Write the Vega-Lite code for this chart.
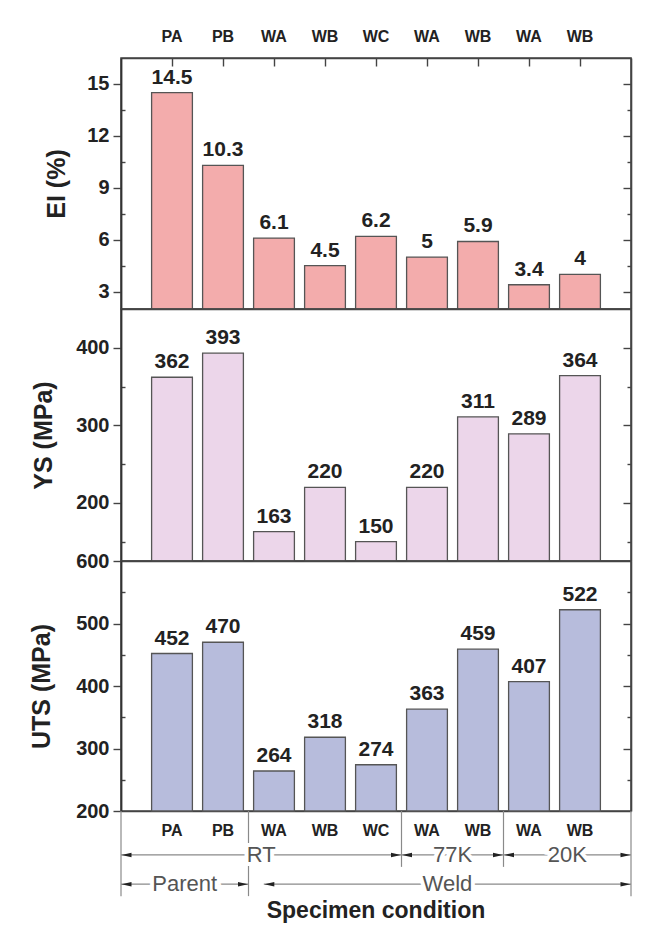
{
  "$schema": "https://vega.github.io/schema/vega-lite/v6.json",
  "background": "white",
  "padding": {"left": 28, "top": 27, "right": 0, "bottom": 0},
  "datasets": {
    "tensile": [
      {"sample": "PA RT", "cond": "PA", "temp": "RT", "el": 14.5, "ys": 362, "uts": 452},
      {"sample": "PB RT", "cond": "PB", "temp": "RT", "el": 10.3, "ys": 393, "uts": 470},
      {"sample": "WA RT", "cond": "WA", "temp": "RT", "el": 6.1, "ys": 163, "uts": 264},
      {"sample": "WB RT", "cond": "WB", "temp": "RT", "el": 4.5, "ys": 220, "uts": 318},
      {"sample": "WC RT", "cond": "WC", "temp": "RT", "el": 6.2, "ys": 150, "uts": 274},
      {"sample": "WA 77K", "cond": "WA", "temp": "77K", "el": 5, "ys": 220, "uts": 363},
      {"sample": "WB 77K", "cond": "WB", "temp": "77K", "el": 5.9, "ys": 311, "uts": 459},
      {"sample": "WA 20K", "cond": "WA", "temp": "20K", "el": 3.4, "ys": 289, "uts": 407},
      {"sample": "WB 20K", "cond": "WB", "temp": "20K", "el": 4, "ys": 364, "uts": 522}
    ],
    "spans": [
      {"label": "RT", "level": "Temperature", "from": 0, "to": 5.5},
      {"label": "77K", "level": "Temperature", "from": 5.5, "to": 7.5},
      {"label": "20K", "level": "Temperature", "from": 7.5, "to": 10},
      {"label": "Parent", "level": "Material", "from": 0, "to": 2.5},
      {"label": "Weld", "level": "Material", "from": 2.8, "to": 10}
    ],
    "dividers": [
      {"at": 0, "start": "Specimen", "reach": "Material"},
      {"at": 2.5, "start": "Specimen", "reach": "Material"},
      {"at": 5.5, "start": "Specimen", "reach": "Temperature"},
      {"at": 7.5, "start": "Specimen", "reach": "Temperature"},
      {"at": 10, "start": "Specimen", "reach": "Material"}
    ]
  },
  "spacing": 0,
  "bounds": "flush",
  "vconcat": [
    {
      "width": 510,
      "height": 251,
      "data": {"name": "tensile"},
      "layer": [
        {
          "mark": {"type": "bar", "width": {"band": 0.8}, "fill": "#f3acac", "stroke": "#555", "strokeWidth": 1.3},
          "encoding": {
            "x": {
              "field": "sample", "type": "nominal", "sort": null,
              "scale": {"paddingInner": 0, "paddingOuter": 0.5},
              "axis": {"orient": "top", "title": null, "labelExpr": "split(datum.label, ' ')[0]", "labelAngle": 0, "labelFontSize": 16, "labelFontWeight": "bold", "labelPadding": 22, "tickSize": -8, "labelOverlap": false}
            },
            "y": {
              "field": "el", "type": "quantitative",
              "scale": {"domain": [2, 16.5], "nice": false, "zero": false},
              "axis": {"orient": "left", "offset": 0, "title": "EI (%)", "titleFontSize": 25, "titleFontWeight": "bold", "titlePadding": 17, "values": [3, 4.5, 6, 7.5, 9, 10.5, 12, 13.5, 15], "labelExpr": "datum.value % 3 === 0 ? datum.label : ''", "labelFontSize": 20, "labelFontWeight": "bold", "labelPadding": 4, "tickSize": {"condition": {"test": "datum.value % 3 !== 0", "value": -4}, "value": 8}, "domain": true, "domainColor": "#333", "domainWidth": 1.8, "domainOpacity": 1}
            },
            "y2": {"datum": 2}
          }
        },
        {
          "mark": {"type": "text", "baseline": "alphabetic", "dy": -9, "fontSize": 21, "fontWeight": "bold", "color": "#222"},
          "encoding": {
            "x": {"field": "sample", "type": "nominal", "sort": null, "axis": {"orient": "bottom", "title": null, "labels": false, "tickSize": -8}},
            "y": {"field": "el", "type": "quantitative", "axis": {"orient": "right", "title": null, "labels": false, "values": [3, 4.5, 6, 7.5, 9, 10.5, 12, 13.5, 15], "tickSize": {"condition": {"test": "datum.value % 3 !== 0", "value": -4}, "value": -8}}},
            "text": {"field": "el", "type": "quantitative"}
          }
        }
      ],
      "resolve": {"axis": {"x": "independent", "y": "independent"}}
    },
    {
      "width": 510,
      "height": 252,
      "data": {"name": "tensile"},
      "layer": [
        {
          "mark": {"type": "bar", "width": {"band": 0.8}, "fill": "#ecd6ea", "stroke": "#555", "strokeWidth": 1.3},
          "encoding": {
            "x": {
              "field": "sample", "type": "nominal", "sort": null,
              "scale": {"paddingInner": 0, "paddingOuter": 0.5},
              "axis": {"orient": "bottom", "title": null, "labels": false, "tickSize": -8}
            },
            "y": {
              "field": "ys", "type": "quantitative",
              "scale": {"domain": [125, 450], "nice": false, "zero": false},
              "axis": {"orient": "left", "offset": 0, "title": "YS (MPa)", "titleFontSize": 25, "titleFontWeight": "bold", "titlePadding": 19, "values": [150, 200, 250, 300, 350, 400], "labelExpr": "datum.value % 100 === 0 ? datum.label : ''", "labelFontSize": 20, "labelFontWeight": "bold", "labelPadding": 4, "tickSize": {"condition": {"test": "datum.value % 100 !== 0", "value": -4}, "value": 8}, "domain": true, "domainColor": "#333", "domainWidth": 1.8, "domainOpacity": 1}
            },
            "y2": {"datum": 125}
          }
        },
        {
          "mark": {"type": "text", "baseline": "alphabetic", "dy": -9, "fontSize": 21, "fontWeight": "bold", "color": "#222"},
          "encoding": {
            "x": {"field": "sample", "type": "nominal", "sort": null, "axis": null},
            "y": {"field": "ys", "type": "quantitative", "axis": {"orient": "right", "title": null, "labels": false, "values": [150, 200, 250, 300, 350, 400], "tickSize": {"condition": {"test": "datum.value % 100 !== 0", "value": -4}, "value": -8}}},
            "text": {"field": "ys", "type": "quantitative"}
          }
        }
      ],
      "resolve": {"axis": {"x": "independent", "y": "independent"}}
    },
    {
      "width": 510,
      "height": 250,
      "data": {"name": "tensile"},
      "layer": [
        {
          "mark": {"type": "bar", "width": {"band": 0.8}, "fill": "#b7bcdc", "stroke": "#555", "strokeWidth": 1.3},
          "encoding": {
            "x": {
              "field": "sample", "type": "nominal", "sort": null,
              "scale": {"paddingInner": 0, "paddingOuter": 0.5},
              "axis": {"orient": "bottom", "title": null, "labels": false, "tickSize": -8}
            },
            "y": {
              "field": "uts", "type": "quantitative",
              "scale": {"domain": [200, 600], "nice": false, "zero": false},
              "axis": {"orient": "left", "offset": 0, "title": "UTS (MPa)", "titleFontSize": 25, "titleFontWeight": "bold", "titlePadding": 21, "values": [200, 250, 300, 350, 400, 450, 500, 550, 600], "labelExpr": "datum.value % 100 === 0 ? datum.label : ''", "labelFontSize": 20, "labelFontWeight": "bold", "labelPadding": 4, "tickSize": {"condition": {"test": "datum.value % 100 !== 0", "value": -4}, "value": 8}, "domain": true, "domainColor": "#333", "domainWidth": 1.8, "domainOpacity": 1}
            },
            "y2": {"datum": 200}
          }
        },
        {
          "mark": {"type": "text", "baseline": "alphabetic", "dy": -9, "fontSize": 21, "fontWeight": "bold", "color": "#222"},
          "encoding": {
            "x": {"field": "sample", "type": "nominal", "sort": null, "axis": null},
            "y": {"field": "uts", "type": "quantitative", "axis": {"orient": "right", "title": null, "labels": false, "values": [250, 300, 350, 400, 450, 500, 550], "tickSize": {"condition": {"test": "datum.value % 100 !== 0", "value": -4}, "value": -8}}},
            "text": {"field": "uts", "type": "quantitative"}
          }
        }
      ],
      "resolve": {"axis": {"x": "independent", "y": "independent"}}
    },
    {
      "width": 510,
      "height": 117,
      "view": {"stroke": null},
      "layer": [
        {
          "data": {"name": "dividers"},
          "mark": {"type": "rule", "color": "#8a8a8a", "strokeWidth": 1.2, "y2Offset": 12},
          "encoding": {
            "x": {"field": "at", "type": "quantitative", "scale": {"domain": [0, 10], "nice": false, "zero": false}, "axis": null},
            "y": {"field": "start", "type": "nominal", "bandPosition": 0, "scale": {"type": "band", "domain": ["Specimen", "Temperature", "Material", "Condition"], "paddingInner": 0, "paddingOuter": 0}, "axis": null},
            "y2": {"field": "reach"}
          }
        },
        {
          "data": {"name": "spans"},
          "mark": {"type": "rule", "color": "#8a8a8a", "strokeWidth": 1.2},
          "encoding": {
            "x": {"field": "from", "type": "quantitative", "scale": {"domain": [0, 10], "nice": false, "zero": false}, "axis": null},
            "x2": {"field": "to"},
            "y": {"field": "level", "type": "nominal", "axis": null}
          }
        },
        {
          "data": {"name": "spans"},
          "mark": {"type": "point", "shape": "M -1 0 L 1 -0.45 L 1 0.45 Z", "filled": true, "size": 100, "color": "#222", "opacity": 1, "xOffset": 5.5},
          "encoding": {
            "x": {"field": "from", "type": "quantitative", "scale": {"domain": [0, 10], "nice": false, "zero": false}, "axis": null},
            "y": {"field": "level", "type": "nominal", "axis": null}
          }
        },
        {
          "data": {"name": "spans"},
          "mark": {"type": "point", "shape": "M 1 0 L -1 -0.45 L -1 0.45 Z", "filled": true, "size": 100, "color": "#222", "opacity": 1, "xOffset": -5.5},
          "encoding": {
            "x": {"field": "to", "type": "quantitative", "scale": {"domain": [0, 10], "nice": false, "zero": false}, "axis": null},
            "y": {"field": "level", "type": "nominal", "axis": null}
          }
        },
        {
          "data": {"name": "spans"},
          "transform": [{"calculate": "(datum.from + datum.to) / 2", "as": "mid"}],
          "mark": {"type": "text", "fontSize": 22, "fill": "white", "stroke": "white", "strokeWidth": 8, "baseline": "middle"},
          "encoding": {
            "x": {"field": "mid", "type": "quantitative", "scale": {"domain": [0, 10], "nice": false, "zero": false}, "axis": null},
            "y": {"field": "level", "type": "nominal", "axis": null},
            "text": {"field": "label"}
          }
        },
        {
          "data": {"name": "spans"},
          "transform": [{"calculate": "(datum.from + datum.to) / 2", "as": "mid"}],
          "mark": {"type": "text", "fontSize": 22, "color": "#555", "baseline": "middle"},
          "encoding": {
            "x": {"field": "mid", "type": "quantitative", "scale": {"domain": [0, 10], "nice": false, "zero": false}, "axis": null},
            "y": {"field": "level", "type": "nominal", "axis": null},
            "text": {"field": "label"}
          }
        },
        {
          "data": {"name": "tensile"},
          "mark": {"type": "text", "fontSize": 16, "fontWeight": "bold", "color": "#222", "baseline": "middle", "dy": 5},
          "encoding": {
            "x": {"field": "sample", "type": "nominal", "sort": null, "scale": {"type": "band", "paddingInner": 0, "paddingOuter": 0.5}, "axis": null},
            "y": {"datum": "Specimen", "type": "nominal", "axis": null},
            "text": {"field": "cond"}
          }
        },
        {
          "data": {"values": [{"caption": "Specimen condition"}]},
          "mark": {"type": "text", "fontSize": 23, "fontWeight": "bold", "color": "#222", "baseline": "middle", "dy": -2},
          "encoding": {
            "x": {"datum": 5, "type": "quantitative", "scale": {"domain": [0, 10], "nice": false, "zero": false}, "axis": null},
            "y": {"datum": "Condition", "type": "nominal", "axis": null},
            "text": {"field": "caption"}
          }
        }
      ],
      "resolve": {"scale": {"x": "independent"}}
    }
  ],
  "config": {
    "font": "Liberation Sans",
    "view": {"stroke": "#444", "strokeWidth": 1.6},
    "axis": {"labelFont": "Liberation Sans", "titleFont": "Liberation Sans", "labelColor": "#222", "titleColor": "#222", "tickColor": "#444", "tickWidth": 1.4, "grid": false, "domain": true, "domainColor": "#444", "domainWidth": 1.6, "zindex": 1}
  }
}
